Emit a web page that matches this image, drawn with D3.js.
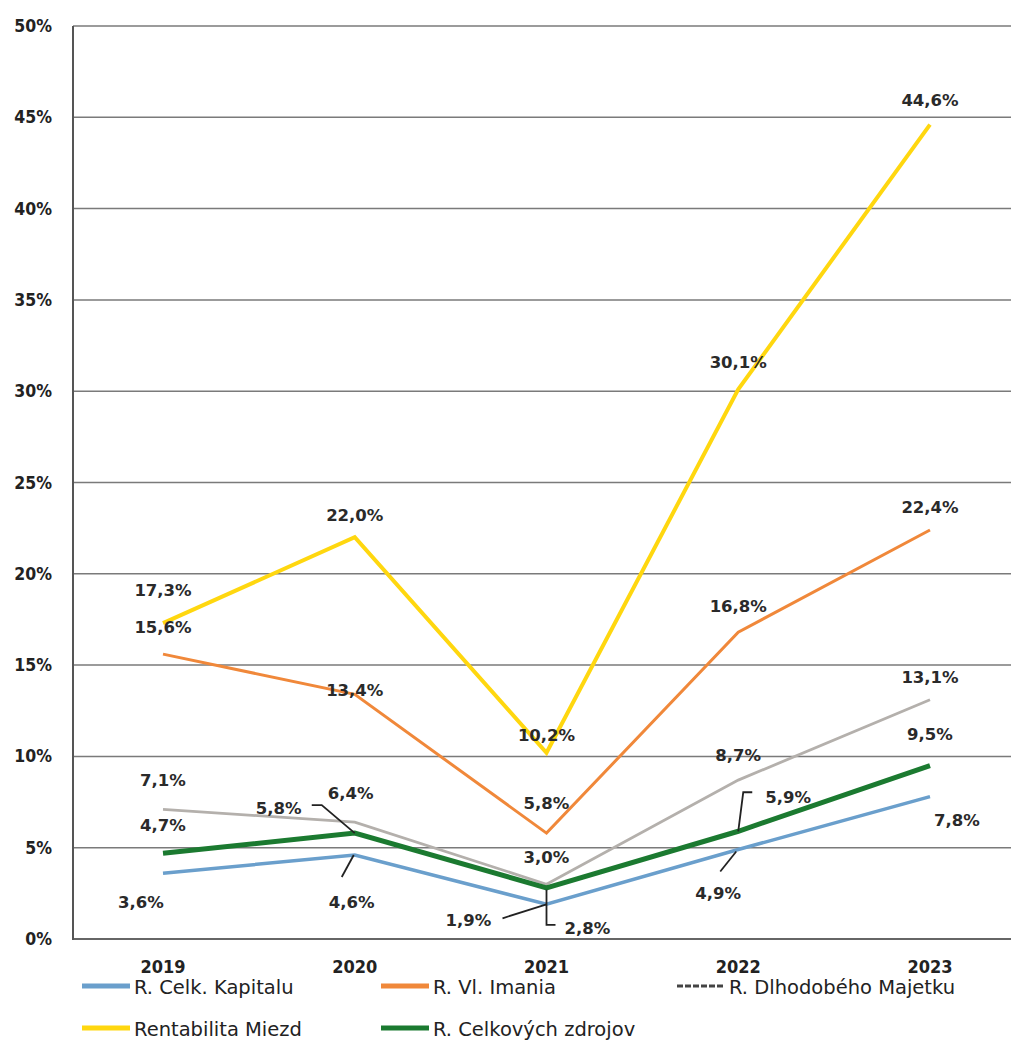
<!DOCTYPE html>
<html><head><meta charset="utf-8">
<script src="https://cdn.jsdelivr.net/npm/d3@7"></script>
<style>body{margin:0;background:#fff}</style>
</head><body>
<svg id="c" width="1011" height="1042"></svg>
<script>
const years = ["2019","2020","2021","2022","2023"];
const yTicks = [0,5,10,15,20,25,30,35,40,45,50];
const kapitalu = [3.6, 4.6, 1.9, 4.9, 7.8];
const imania = [15.6, 13.4, 5.8, 16.8, 22.4];
const majetku = [7.1, 6.4, 3.0, 8.7, 13.1];
const miezd = [17.3, 22.0, 10.2, 30.1, 44.6];
const zdrojov = [4.7, 5.8, 2.8, 5.9, 9.5];
const names = ["R. Celk. Kapitalu","R. Vl. Imania","R. Dlhodobého Majetku","Rentabilita Miezd","R. Celkových zdrojov"];

// layout (styles / offsets)
const series = [
  {name:names[0], vals:kapitalu, color:"#6a9fcc", w:3.5, lab:[[-22,29],[-3,47],[-78,16],[-20,43],[27,23]]},
  {name:names[1], vals:imania, color:"#f0883a", w:3, lab:[[0,-27],[0,-4],[0,-30],[0,-26],[0,-23]]},
  {name:names[2], vals:majetku, color:"#b4b0ac", w:2.8, lab:[[0,-29],[-4,-29],[0,-27],[0,-25],[0,-23]]},
  {name:names[3], vals:miezd, color:"#ffd70f", w:4, lab:[[0,-33],[0,-22],[0,-18],[0,-27],[0,-25]]},
  {name:names[4], vals:zdrojov, color:"#1b7a30", w:5, lab:[[0,-28],[-76,-25],[41,40],[50,-34],[0,-32]]}
];
const leaders = [
  {s:4,i:1,pts:[[0,0],[-33,-28],[-43,-28]]},
  {s:0,i:1,pts:[[-1,0],[-13,22]]},
  {s:0,i:2,pts:[[0,0],[-44,14]]},
  {s:4,i:2,pts:[[0,2],[0,37],[9,37]]},
  {s:4,i:3,pts:[[0,0],[5,-39],[14,-39]]},
  {s:0,i:3,pts:[[-2,2],[-18,22]]}
];

const svg = d3.select("#c");
const x = d3.scalePoint().domain(years).range([163,930]);
const y = d3.scaleLinear().domain([0,50]).range([939,26]);

// gridlines
svg.append("g").selectAll("line").data(yTicks).join("line")
  .attr("x1",73).attr("x2",1011).attr("y1",d=>y(d)).attr("y2",d=>y(d))
  .attr("stroke",d=>d===0?"#666":"#7a7a7a").attr("stroke-width",d=>d===0?2:1.5);
svg.append("line").attr("x1",73).attr("x2",73).attr("y1",y(50)).attr("y2",y(0)+1)
  .attr("stroke","#555").attr("stroke-width",2);

// y tick labels
svg.append("g").selectAll("text").data(yTicks).join("text")
  .attr("x",52).attr("y",d=>y(d)+6).attr("text-anchor","end")
  .attr("font-family","DejaVu Sans Condensed, DejaVu Sans").attr("font-weight","bold")
  .attr("font-size",17.5).attr("fill","#222").text(d=>d+"%");

// x labels
svg.append("g").selectAll("text").data(years).join("text")
  .attr("x",d=>x(d)).attr("y",973).attr("text-anchor","middle")
  .attr("font-family","DejaVu Sans Condensed, DejaVu Sans").attr("font-weight","bold")
  .attr("font-size",18).attr("fill","#222").text(d=>d);

// lines
const line = d3.line().x((d,i)=>x(years[i])).y(d=>y(d));
series.forEach(s=>{
  svg.append("path").datum(s.vals).attr("d",line).attr("fill","none")
    .attr("stroke",s.color).attr("stroke-width",s.w).attr("stroke-linejoin","miter");
});

// leader lines
leaders.forEach(l=>{
  const px = x(years[l.i]), py = y(series[l.s].vals[l.i]);
  svg.append("polyline").attr("points",l.pts.map(p=>[px+p[0],py+p[1]].join(",")).join(" "))
    .attr("fill","none").attr("stroke","#222").attr("stroke-width",1.8);
});

// data labels
const fmt = v => v.toFixed(1).replace(".",",")+"%";
series.forEach(s=>{
  svg.append("g").selectAll("text").data(s.vals).join("text")
    .attr("x",(d,i)=>x(years[i])+s.lab[i][0])
    .attr("y",(d,i)=>y(d)+s.lab[i][1]+6)
    .attr("text-anchor","middle")
    .attr("font-family","DejaVu Sans").attr("font-weight","bold")
    .attr("font-size",16.5).attr("fill","#2a2a2a").text(fmt);
});

// legend
const leg = [
  {s:0,lx:82,ly:986},{s:1,lx:381,ly:986},{s:2,lx:677,ly:986},
  {s:3,lx:82,ly:1028},{s:4,lx:381,ly:1028}
];
leg.forEach(L=>{
  const s = series[L.s];
  svg.append("line").attr("x1",L.lx).attr("x2",L.lx+48).attr("y1",L.ly).attr("y2",L.ly)
    .attr("stroke",L.s===2?"#444":s.color).attr("stroke-width",L.s===2?3:5)
    .attr("stroke-dasharray",L.s===2?"6,2":null);
  svg.append("text").attr("x",L.lx+52).attr("y",L.ly+8)
    .attr("font-family","DejaVu Sans").attr("font-size",19.5).attr("fill","#222").text(s.name);
});
</script>
</body></html>
